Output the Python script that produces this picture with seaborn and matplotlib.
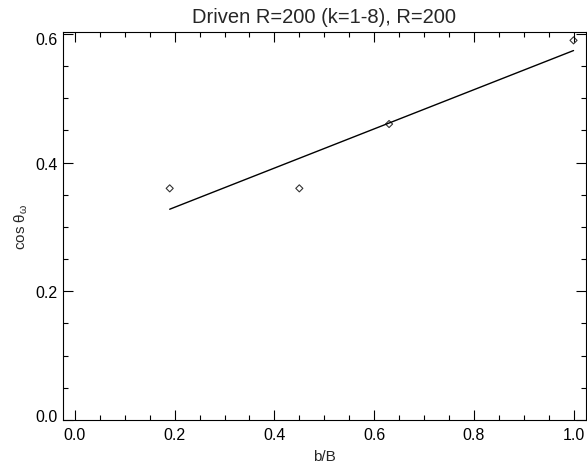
import matplotlib
matplotlib.use("Agg")
import matplotlib.pyplot as plt
from matplotlib.ticker import MultipleLocator, FixedLocator
from matplotlib.transforms import ScaledTranslation
import seaborn as sns
import numpy as np
import pandas as pd

# data
b_over_B = [0.19, 0.45, 0.63, 1.0]
cos_theta = [0.36, 0.36, 0.46, 0.59]
x_ticks = [0.0, 0.2, 0.4, 0.6, 0.8, 1.0]
y_ticks = [0.0, 0.2, 0.4, 0.6]
title = "Driven R=200 (k=1-8), R=200"

sns.set_style("ticks")
plt.rcParams["font.family"] = ["Liberation Sans", "DejaVu Sans"]
plt.rcParams["mathtext.fontset"] = "custom"
plt.rcParams["mathtext.rm"] = "Liberation Sans"
plt.rcParams["mathtext.it"] = "Liberation Sans"

df = pd.DataFrame({"b": b_over_B, "c": cos_theta})

fig = plt.figure(figsize=(5.87, 4.64), dpi=100)
ax = fig.add_axes([63 / 587, 1 - 421 / 464, (586 - 63) / 587, (421 - 33) / 464])

sns.regplot(data=df, x="b", y="c", ci=None, ax=ax, marker="D",
            scatter_kws=dict(facecolors="none", edgecolors="black", s=13, linewidths=0.8),
            line_kws=dict(color="black", lw=1.0))

ax.set_xlim(-0.024, 1.025)
ax.set_ylim(0.0, 0.603)
ax.xaxis.set_major_locator(FixedLocator(x_ticks))
ax.yaxis.set_major_locator(FixedLocator(y_ticks))
ax.xaxis.set_minor_locator(MultipleLocator(0.05))
ax.yaxis.set_minor_locator(MultipleLocator(0.05))
ax.set_xticklabels([f"{v:.1f}" for v in x_ticks])
ax.set_yticklabels([f"{v:.1f}" for v in y_ticks])

ax.tick_params(which="both", direction="in", top=True, right=True, color="black", width=0.8,
               labelsize=11.5, labelcolor="black")
ax.tick_params(which="major", length=7)
ax.tick_params(which="minor", length=3.5)
ax.tick_params(axis="x", pad=5)
ax.tick_params(axis="y", pad=4)
for s in ax.spines.values():
    s.set_linewidth(0.8)
    s.set_color("black")

ax.set_title(title, fontsize=14.5, pad=7)
ax.set_xlabel("b/B", fontsize=11, labelpad=5)
ax.set_ylabel("cos θ$_\\mathrm{ω}$", fontsize=11, labelpad=4)

yt = ax.yaxis.get_major_ticks()
yt[0].label1.set_transform(yt[0].label1.get_transform() + ScaledTranslation(0, 5 / 100, fig.dpi_scale_trans))
yt[-1].label1.set_transform(yt[-1].label1.get_transform() + ScaledTranslation(0, -4 / 100, fig.dpi_scale_trans))

fig.savefig("out.png", dpi=100)
